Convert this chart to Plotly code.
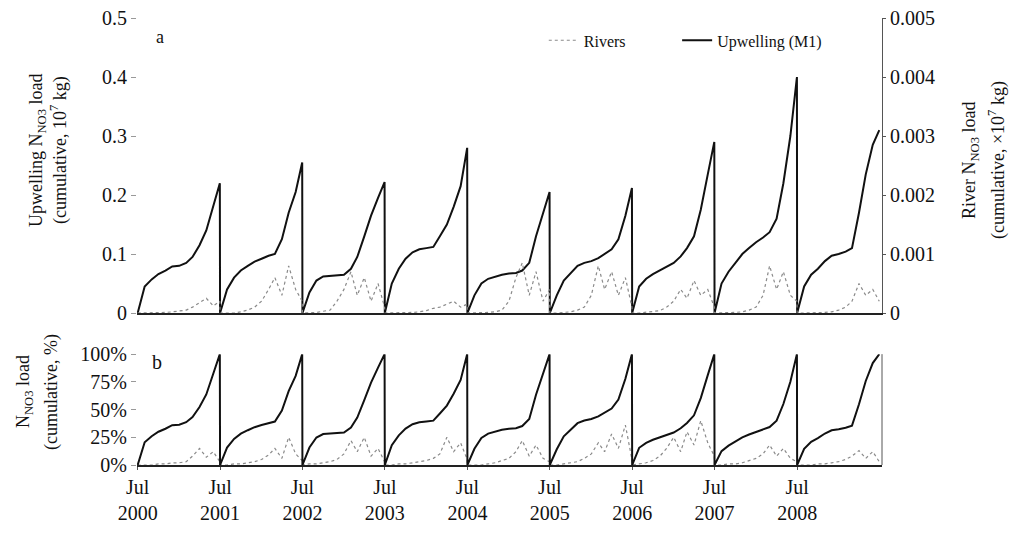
import plotly.graph_objects as go

# ---------------- data ----------------
years = [2000, 2001, 2002, 2003, 2004, 2005, 2006, 2007, 2008]
month_days = ["07-01", "08-01", "09-01", "10-01", "11-01", "12-01",
              "01-01", "02-01", "03-01", "04-01", "05-01", "06-01", "06-30"]

# Upwelling (M1) cumulative N_NO3 load (10^7 kg), monthly, one list per Jul-Jun year
upwelling = {
    2000: [0, 0.045, 0.057, 0.066, 0.072, 0.079, 0.080, 0.085, 0.095, 0.115, 0.14, 0.18, 0.22],
    2001: [0, 0.040, 0.060, 0.072, 0.080, 0.087, 0.092, 0.097, 0.100, 0.125, 0.17, 0.205, 0.255],
    2002: [0, 0.035, 0.055, 0.062, 0.063, 0.064, 0.065, 0.075, 0.095, 0.13, 0.165, 0.195, 0.222],
    2003: [0, 0.050, 0.075, 0.092, 0.103, 0.108, 0.110, 0.112, 0.130, 0.15, 0.18, 0.215, 0.28],
    2004: [0, 0.030, 0.050, 0.058, 0.062, 0.065, 0.067, 0.068, 0.072, 0.085, 0.13, 0.17, 0.205],
    2005: [0, 0.030, 0.055, 0.068, 0.080, 0.085, 0.088, 0.093, 0.100, 0.108, 0.125, 0.165, 0.212],
    2006: [0, 0.045, 0.058, 0.066, 0.072, 0.078, 0.085, 0.096, 0.110, 0.13, 0.175, 0.235, 0.29],
    2007: [0, 0.050, 0.070, 0.085, 0.100, 0.110, 0.120, 0.128, 0.137, 0.16, 0.22, 0.30, 0.40],
    2008: [0, 0.045, 0.065, 0.075, 0.088, 0.097, 0.100, 0.104, 0.110, 0.17, 0.235, 0.285, 0.31],
}

# Rivers cumulative N_NO3 load (10^7 kg), monthly
rivers = {
    2000: [0, 0, 0, 0, 0.00001, 0.00002, 0.00003, 0.00005, 0.0001, 0.00018, 0.00025, 0.00012, 0.0002],
    2001: [0, 0, 0, 0.00002, 0.00005, 0.0001, 0.0002, 0.0004, 0.0006, 0.0003, 0.0008, 0.0004, 0.0002],
    2002: [0, 0, 0.00001, 0.00003, 0.00005, 0.0002, 0.0004, 0.0007, 0.0003, 0.0006, 0.0002, 0.0005, 0.0001],
    2003: [0, 0, 0, 0, 0.00001, 0.00002, 0.00004, 0.00008, 0.0001, 0.00015, 0.0002, 0.0001, 0.00015],
    2004: [0, 0, 0, 0.00001, 0.00002, 0.00005, 0.0002, 0.0006, 0.00085, 0.0003, 0.0007, 0.0002, 0.0004],
    2005: [0, 0, 0.00001, 0.00002, 0.00005, 0.0001, 0.0003, 0.0008, 0.0004, 0.0007, 0.0003, 0.0006, 0.0001],
    2006: [0, 0, 0.00001, 0.00002, 0.00004, 0.0001, 0.0002, 0.0004, 0.00025, 0.00055, 0.0003, 0.0004, 0.0001],
    2007: [0, 0, 0, 0.00001, 0.00002, 0.00005, 0.0001, 0.0003, 0.0008, 0.0004, 0.0007, 0.0003, 0.0002],
    2008: [0, 0, 0, 0, 0.00001, 0.00002, 0.00005, 0.0001, 0.0002, 0.0005, 0.0003, 0.0004, 0.0002],
}

# Rivers cumulative share (%), monthly, for panel b
rivers_pct = {
    2000: [0, 0, 0, 1, 1, 2, 2, 3, 8, 15, 7, 12, 3],
    2001: [0, 0, 1, 1, 2, 3, 5, 9, 15, 6, 25, 10, 4],
    2002: [0, 1, 1, 2, 3, 5, 10, 22, 12, 25, 8, 15, 3],
    2003: [0, 0, 1, 1, 2, 3, 4, 6, 10, 25, 12, 20, 5],
    2004: [0, 0, 0, 1, 2, 4, 6, 12, 22, 8, 18, 6, 3],
    2005: [0, 0, 1, 2, 3, 6, 10, 20, 12, 28, 15, 36, 5],
    2006: [0, 1, 2, 4, 8, 15, 25, 12, 30, 18, 40, 20, 8],
    2007: [0, 0, 1, 1, 2, 4, 6, 10, 18, 8, 15, 6, 3],
    2008: [0, 0, 0, 1, 1, 2, 3, 5, 8, 13, 6, 12, 3],
}

left_ticks = [0, 0.1, 0.2, 0.3, 0.4, 0.5]
left_ticktext = ["0", "0.1", "0.2", "0.3", "0.4", "0.5"]
right_ticks = [0, 0.001, 0.002, 0.003, 0.004, 0.005]
right_ticktext = ["0", "0.001", "0.002", "0.003", "0.004", "0.005"]
pct_ticks = [0, 25, 50, 75, 100]
pct_ticktext = ["0%", "25%", "50%", "75%", "100%"]
x_tick_years = [2000, 2001, 2002, 2003, 2004, 2005, 2006, 2007, 2008]

# ---------------- build series ----------------
def dates_for(y):
    out = []
    for i, md in enumerate(month_days):
        yy = y if i < 6 else y + 1
        out.append(f"{yy}-{md}")
    return out

xs, up_y, riv_y, up_pct, riv_p = [], [], [], [], []
for y in years:
    d = dates_for(y)
    xs += d
    up_y += upwelling[y]
    riv_y += rivers[y]
    tot = upwelling[y][-1]
    up_pct += [v / tot * 100 for v in upwelling[y]]
    riv_p += rivers_pct[y]

FONT = "Liberation Serif"
fig = go.Figure()

# panel a
fig.add_trace(go.Scatter(x=xs, y=riv_y, name="Rivers", mode="lines", legend="legend",
                         line=dict(color="#8a8a8a", width=1.2, dash="dot"),
                         xaxis="x", yaxis="y2"))
fig.add_trace(go.Scatter(x=xs, y=up_y, name="Upwelling (M1)", mode="lines", legend="legend2",
                         line=dict(color="#111111", width=2),
                         xaxis="x", yaxis="y"))
# panel b
fig.add_trace(go.Scatter(x=xs, y=riv_p, name="Rivers", mode="lines", showlegend=False,
                         line=dict(color="#8a8a8a", width=1.2, dash="dot"),
                         xaxis="x2", yaxis="y3"))
fig.add_trace(go.Scatter(x=xs, y=up_pct, name="Upwelling (M1)", mode="lines", showlegend=False,
                         line=dict(color="#111111", width=2),
                         xaxis="x2", yaxis="y3"))

xr = ["2000-06-28", "2009-07-12"]
tickvals = [f"{y}-07-01" for y in x_tick_years]
ticktext = [f"Jul<br>{y}" for y in x_tick_years]
tfont = dict(family=FONT, size=20, color="#111")
lfont = dict(family=FONT, size=16, color="#111")

# the page adds an 8px body margin; figure is sized to the remaining area
fig.update_layout(
    width=1001, height=517,
    margin=dict(l=129, r=127, t=10, b=60, autoexpand=False),
    paper_bgcolor="white", plot_bgcolor="white",
    font=dict(family=FONT, size=16, color="#111"),
    xaxis=dict(domain=[0, 1], range=xr, anchor="y", showticklabels=False,
               showgrid=False, zeroline=False, showline=True, linecolor="#222",
               linewidth=1.5, tickvals=tickvals, ticks="", type="date", automargin=False),
    yaxis=dict(domain=[0.34, 1.0], range=[0, 0.5], anchor="x", automargin=False,
               tickvals=left_ticks, ticktext=left_ticktext, tickfont=tfont,
               ticklabeloverflow="allow",
               showgrid=False, zeroline=False, showline=False,
               ticks="outside", ticklen=5, tickcolor="#999"),
    yaxis2=dict(overlaying="y", side="right", range=[0, 0.005], anchor="x", automargin=False,
                tickvals=right_ticks, ticktext=right_ticktext, tickfont=tfont,
                ticklabeloverflow="allow",
                showgrid=False, zeroline=False, showline=True, linecolor="#555",
                linewidth=1, ticks="outside", ticklen=3, tickcolor="#555"),
    xaxis2=dict(domain=[0, 1], range=xr, anchor="y3", tickvals=tickvals, automargin=False,
                ticktext=ticktext, tickfont=tfont, showgrid=False, zeroline=False,
                ticklabeloverflow="allow",
                showline=True, linecolor="#222", linewidth=1.5,
                ticks="outside", ticklen=3, tickcolor="#555", type="date"),
    yaxis3=dict(domain=[0, 0.248], range=[0, 100], anchor="x2", automargin=False,
                tickvals=pct_ticks, ticktext=pct_ticktext, tickfont=tfont,
                ticklabeloverflow="allow",
                showgrid=False, zeroline=False, showline=False,
                ticks="outside", ticklen=5, tickcolor="#999"),
    legend=dict(orientation="h", x=0.546, y=0.988, xanchor="left", yanchor="top",
                bgcolor="rgba(0,0,0,0)", font=lfont),
    legend2=dict(orientation="h", x=0.725, y=0.988, xanchor="left", yanchor="top",
                 bgcolor="rgba(0,0,0,0)", font=lfont),
    showlegend=True,
)

fig.add_shape(type="line", xref="x2 domain", yref="y3 domain", x0=1, x1=1, y0=0, y1=1,
              line=dict(color="#555", width=1))

# positions below are in screen pixels of the plot area (137..882 x, 18..465 y)
def px(x):
    return (x - 137) / 745

def py(y):
    return (465 - y) / 447

ann = [
    dict(text="a", x=px(160), y=py(37), size=18),
    dict(text="b", x=px(157), y=py(362), size=20),
    dict(text="Upwelling N<sub>NO3</sub> load", x=px(37), y=py(150), textangle=-90, size=18),
    dict(text="(cumulative, 10<sup>7</sup> kg)", x=px(59), y=py(150), textangle=-90, size=18),
    dict(text="N<sub>NO3</sub> load", x=px(24), y=py(392), textangle=-90, size=18),
    dict(text="(cumulative, %)", x=px(51), y=py(392), textangle=-90, size=18),
    dict(text="River N<sub>NO3</sub> load", x=px(970), y=py(160), textangle=-90, size=18),
    dict(text="(cumulative, ×10<sup>7</sup> kg)", x=px(997), y=py(160), textangle=-90, size=18),
]
for a in ann:
    size = a.pop("size")
    fig.add_annotation(xref="paper", yref="paper", showarrow=False,
                       xanchor="center", yanchor="middle",
                       font=dict(family=FONT, size=size, color="#111"), **a)

fig.write_html("out.html")
